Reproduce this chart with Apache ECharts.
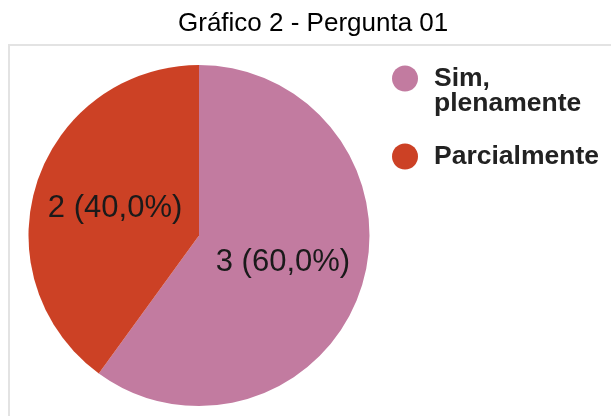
<!DOCTYPE html>
<html>
<head>
<meta charset="utf-8">
<script src="https://cdn.jsdelivr.net/npm/echarts@6/dist/echarts.min.js"></script>
<style>
  html, body { margin: 0; padding: 0; background: #fff; }
  #chart { width: 611px; height: 416px; }
</style>
</head>
<body>
<div id="chart"></div>
<script>
// dados do gráfico
const categorias = ['Sim, plenamente', 'Parcialmente'];
const rotulosLegenda = ['{s|}\n{s|}{t|Sim,}\n{s|}{t|plenamente}', '{s|}{t|Parcialmente}'];
const valores = [3, 2];
const cores = ['#c27ba0', '#cc4125'];

const chart = echarts.init(document.getElementById('chart'));
const total = valores.reduce((s, v) => s + v, 0);

const option = {
  animation: false,
  textStyle: { fontFamily: 'Liberation Sans, Arial, sans-serif' },
  title: {
    text: 'Gráfico 2 - Pergunta 01',
    left: 178,
    top: 11,
    padding: 0,
    textStyle: { fontSize: 26, fontWeight: 'normal', color: '#000' }
  },
  graphic: [
    {
      type: 'rect',
      shape: { x: 9, y: 45, width: 700, height: 500 },
      style: { fill: 'none', stroke: '#e3e3e3', lineWidth: 2 },
      silent: true
    }
  ],
  legend: {
    orient: 'vertical',
    left: 392,
    top: 41,
    padding: 0,
    icon: 'circle',
    itemWidth: 26,
    itemHeight: 26,
    itemGap: 26,
    selectedMode: false,
    formatter: (name) => rotulosLegenda[categorias.indexOf(name)],
    textStyle: {
      rich: {
        s: { width: 11, height: 25, lineHeight: 25 },
        t: { fontSize: 26.5, fontWeight: 'bold', color: '#222', lineHeight: 25 }
      }
    },
    data: categorias
  },
  color: cores,
  series: [
    {
      type: 'pie',
      center: [199, 235.5],
      radius: [0, 170.5],
      startAngle: 90,
      clockwise: true,
      silent: true,
      itemStyle: { borderWidth: 0 },
      label: {
        position: 'inside',
        fontSize: 31,
        color: '#1a1a1a',
        formatter: (p) => p.value + ' (' + (p.value / total * 100).toFixed(1).replace('.', ',') + '%)'
      },
      labelLine: { show: false },
      data: categorias.map((n, i) => ({ name: n, value: valores[i] }))
    }
  ]
};

chart.setOption(option);
</script>
</body>
</html>
